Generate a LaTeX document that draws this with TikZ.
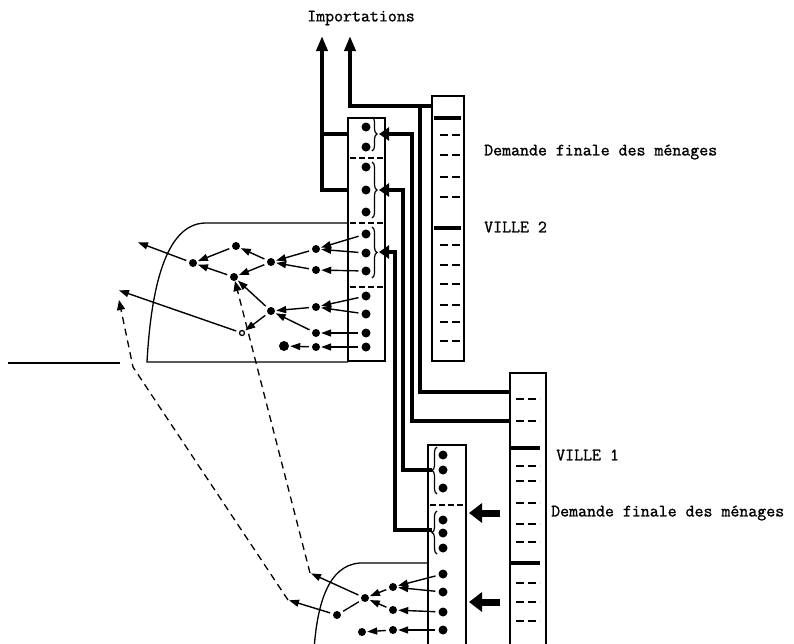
\documentclass[tikz,border=0pt]{standalone}
\usepackage{fontspec}
\usepackage{tikz}
\usetikzlibrary{arrows.meta,decorations.pathreplacing}
\newfontfamily\typew{Latin Modern Mono}[FakeBold=1.2]
\tikzset{
  dot/.style={circle,fill,inner sep=0pt,minimum size=8pt},
  cdot/.style={dot,minimum size=9pt},
  fl/.style={-{Triangle[length=10pt,width=7pt]},line width=1.4pt,shorten <=3pt,shorten >=1pt},
  heavy/.style={line width=3.8pt},
  imp/.style={heavy,-{Triangle[length=15pt,width=11pt]}},
  inflow/.style={heavy,-{Triangle[length=10pt,width=13pt]}},
  fat/.style={line width=7pt,-{Triangle[length=13pt,width=19pt]}},
  dsh/.style={line width=1.3pt,dash pattern=on 7pt off 5pt,-{Triangle[length=10pt,width=8pt]}},
  thin/.style={line width=1.3pt},
  bar/.style={line width=1.4pt,dash pattern=on 8pt off 4pt},
  brc/.style={decorate,decoration={brace,amplitude=5pt},line width=1.2pt},
  lbl/.style={font=\typew\fontsize{17.4}{20}\selectfont,anchor=west,inner sep=0pt}
}

\begin{document}
\begin{tikzpicture}[x=1pt,y=-1pt]
\useasboundingbox (0,0) rectangle (794,643);
\clip (0,0) rectangle (794,643);

\node[draw,thin,minimum width=32pt,minimum height=265pt] (d2) at (448,228.5) {};
\node[draw,thin,minimum width=36pt,minimum height=294pt] (d1) at (528,520) {};
\node[draw,thin,minimum width=37pt,minimum height=243pt] (c2) at (366.5,239.5) {};
\node[draw,thin,minimum width=38pt,minimum height=210pt] (c1) at (447,550) {};

\foreach \y in {118,228} \draw[heavy] (434,\y) -- (461,\y);
\foreach \y in {135,155,177,197,245,265,284,305,322,341} \draw[bar] (440,\y) -- (460,\y);
\foreach \y in {448,563} \draw[heavy] (511,\y) -- (540,\y);
\foreach \y in {399,421,466,481,503,524,542,583,602,621} \draw[bar] (516,\y) -- (540,\y);

\foreach \y in {158,223,287} \draw[thin,dash pattern=on 6pt off 3pt] (350,\y) -- (384,\y);
\draw[thin,dash pattern=on 6pt off 3pt] (430,505) -- (464,505);

\draw[thin] (348,223) -- (205,223) .. controls (165,224) and (151,290) .. (147,362) -- (348,362);
\draw[thin] (8,363) -- (120,363);
\draw[thin] (428,563) -- (360,563) .. controls (328,565) and (317,605) .. (314,650);

\foreach \y [count=\i] in {127,147,167,190,212,234,253,271,296,314,333,347}
  \node[cdot] (a\i) at (366,\y) {};
\foreach \y [count=\i] in {455,470,488,520,533,548,574,592,612,630}
  \node[cdot] (b\i) at (443,\y) {};

\draw[brc] (372,117) -- (372,151);
\draw[brc] (372,162) -- (372,218);
\draw[brc] (372,227) -- (372,278);
\draw[brc] (437,494) -- (437,447);
\draw[brc] (437,554) -- (437,511);

\node[dot] (p1) at (316,249) {};
\node[dot] (p2) at (316,270) {};
\node[dot] (p3) at (316,307) {};
\node[dot] (p4) at (316,333) {};
\node[dot] (p5) at (316,347) {};
\node[dot,minimum size=10pt] (p6) at (284,346) {};
\node[dot] (q1) at (271,262) {};
\node[dot] (q2) at (271,311) {};
\node[dot] (r1) at (236,246) {};
\node[dot] (r2) at (234,277) {};
\node[dot] (s) at (193,263) {};
\node[circle,draw,thin,inner sep=0pt,minimum size=5pt] (o) at (242,333) {};

\node[dot] (m1) at (393,587) {};
\node[dot] (m2) at (393,610) {};
\node[dot] (m3) at (393,630) {};
\node[dot] (n1) at (365,598) {};
\node[dot] (n2) at (362,632) {};
\node[dot] (k) at (337,615) {};

\coordinate (i1) at (322,36);
\coordinate (i2) at (350,36);
\coordinate (j) at (420,106);
\coordinate (u1) at (510,392);
\coordinate (u2) at (510,421);
\coordinate (t1) at (379,134);
\coordinate (t2) at (379,190);
\coordinate (t3) at (379,252);
\coordinate (s1) at (432,470);
\coordinate (s2) at (432,530);
\coordinate (x1) at (137,242);
\coordinate (x2) at (118,290);
\coordinate (x3) at (119,300);
\coordinate (e1) at (310,573);
\coordinate (e2) at (288,600);

\draw[imp] (c2.west |- a4) -| (i1);
\draw[heavy] (c2.west |- t1) -- (i1 |- t1);
\draw[imp] (d2.west |- j) -| (i2);
\draw[heavy] (j) |- (u1);
\draw[inflow] (u2) -| (412,134) -- (t1);
\draw[inflow] (s1) -| (403,190) -- (t2);
\draw[inflow] (s2) -| (395,252) -- (t3);

\foreach \a/\b in {a6/p1,a7/p1,a8/p2,p1/q1,p2/q1,q1/r1,q1/r2,r1/s,r2/s,a9/p3,a10/p3,p3/q2,p4/q2,a11/p4,a12/p5,p5/p6,q2/r2,q2/o}
  \draw[fl] (\a) -- (\b);
\draw[fl] (s) -- (x1);
\draw[fl] (o) -- (x2);

\foreach \a/\b in {b7/m1,b8/m1,b9/m2,b10/m3,m1/n1,m2/n1,m3/n2}
  \draw[fl] (\a) -- (\b);
\draw[thin,shorten <=3pt,shorten >=3pt] (n1) -- (k);
\draw[fl] (n1) -- (e1);
\draw[fl] (k) -- (e2);
\draw[dsh] (e1) -- (r2);
\draw[dsh] (e2) -- (133,367) -- (x3);

\coordinate (f1) at (500,513);
\coordinate (g1) at (469,513);
\coordinate (f2) at (500,602);
\coordinate (g2) at (469,602);
\draw[fat] (f1) -- (g1);
\draw[fat] (f2) -- (g2);

\node[lbl,anchor=center] (imp) at (361,18) {Importations};
\node[lbl] (dm2) at (484,152) {Demande finale des ménages};
\node[lbl] (v2) at (484,227) {VILLE 2};
\node[lbl] (v1) at (556,455) {VILLE 1};
\node[lbl] (dm1) at (551,513) {Demande finale des ménages};
\end{tikzpicture}
\end{document}
